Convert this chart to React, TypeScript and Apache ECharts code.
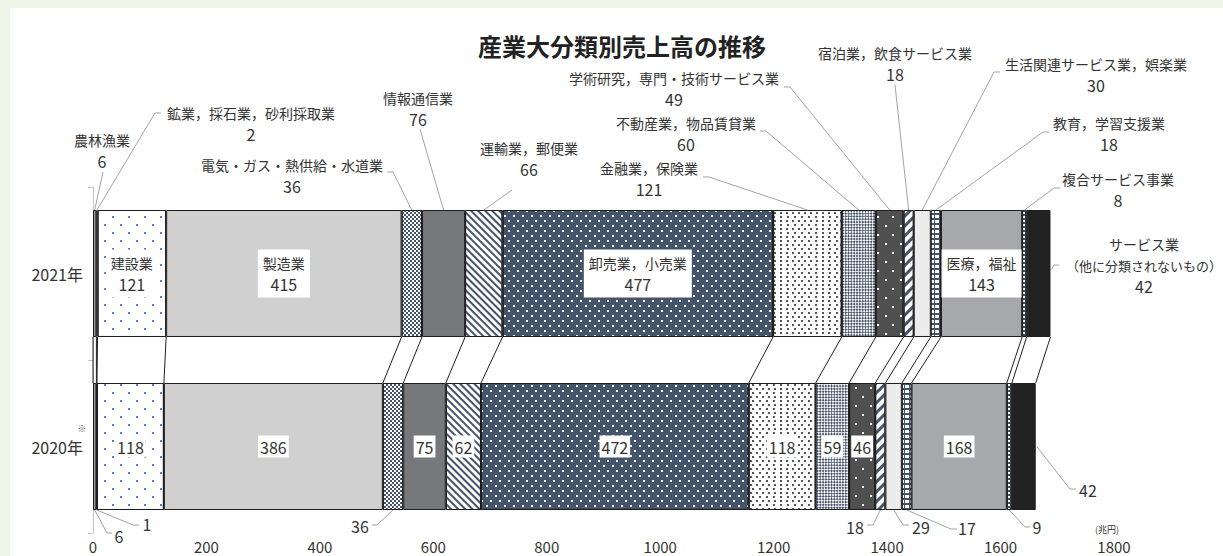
import React, { useEffect, useRef } from 'react';
import * as echarts from 'echarts';

// ---------- data ----------
const TITLE = '産業大分類別売上高の推移';
const YEARS = ['2021年', '2020年'];
const INDUSTRIES = [
  '農林漁業',
  '鉱業，採石業，砂利採取業',
  '建設業',
  '製造業',
  '電気・ガス・熱供給・水道業',
  '情報通信業',
  '運輸業，郵便業',
  '卸売業，小売業',
  '金融業，保険業',
  '不動産業，物品賃貸業',
  '学術研究，専門・技術サービス業',
  '宿泊業，飲食サービス業',
  '生活関連サービス業，娯楽業',
  '教育，学習支援業',
  '医療，福祉',
  '複合サービス事業',
  'サービス業（他に分類されないもの）',
];
const SALES_2021 = [6, 2, 121, 415, 36, 76, 66, 477, 121, 60, 49, 18, 30, 18, 143, 8, 42];
const SALES_2020 = [6, 1, 118, 386, 36, 75, 62, 472, 118, 59, 46, 18, 29, 17, 168, 9, 42];
const X_MIN = 0;
const X_MAX = 1800;
const X_STEP = 200;
const UNIT_LABEL = '(兆円)';
const NOTE_MARK = '※';

// which segments carry their label inside the bar
const INSIDE_2021 = [2, 3, 7, 14];
const INSIDE_2020 = [2, 3, 5, 6, 7, 8, 9, 10, 14];

// ---------- layout / styles ----------
const FONT = "'Noto Sans CJK JP', 'Noto Sans', sans-serif";
const TEXT = '#333333';
const NAVY = '#44546a';
const BAR_RATIO = 127 / 173;

const SEG_STYLES: any[] = [
  { color: '#9b9b9b' },
  { color: '#3c3c3c' },
  { color: '#ffffff', decal: { symbol: 'rect', color: '#4a7fd4', dashArrayX: [[1.6, 13.4], [0, 7.5, 1.6, 5.9]], dashArrayY: [1.6, 5.7], symbolSize: 1 } },
  { color: '#d0d0d0' },
  { color: '#ffffff', decal: { symbol: 'rect', color: NAVY, dashArrayX: [[1.5, 1.5], [0, 1.5, 1.5, 0]], dashArrayY: [1.5, 0], symbolSize: 1 } },
  { color: '#76787c' },
  { color: '#ffffff', decal: { symbol: 'rect', color: NAVY, dashArrayX: [1, 0], dashArrayY: [1.2, 2.8], rotation: Math.PI / 4, symbolSize: 1 } },
  { color: NAVY, decal: { symbol: 'rect', color: '#ffffff', dashArrayX: [[1.5, 6.5], [0, 4, 1.5, 2.5]], dashArrayY: [1.5, 2.5], symbolSize: 1 } },
  { color: '#ffffff', decal: { symbol: 'rect', color: '#555555', dashArrayX: [[1.3, 3.7], [0, 2.5, 1.3, 1.2]], dashArrayY: [1.3, 1.2], symbolSize: 1 } },
  { color: NAVY, decal: { symbol: 'rect', color: '#ffffff', dashArrayX: [[2, 2], [0, 2, 2, 0]], dashArrayY: [2, 0], rotation: Math.PI / 4, symbolSize: 1 } },
  { color: '#505050', decal: { symbol: 'rect', color: '#ffffff', dashArrayX: [[1.5, 12.5], [0, 7, 1.5, 5.5]], dashArrayY: [1.5, 6.5], symbolSize: 1 } },
  { color: '#ffffff', decal: { symbol: 'rect', color: NAVY, dashArrayX: [1, 0], dashArrayY: [2.5, 3.5], rotation: -Math.PI / 4, symbolSize: 1 } },
  { color: '#ececec' },
  { color: NAVY, decal: { symbol: 'rect', color: '#ffffff', dashArrayX: [[3.5, 1]], dashArrayY: [3, 1.2], symbolSize: 1 } },
  { color: '#a7a8ac' },
  { color: NAVY, decal: { symbol: 'rect', color: '#ffffff', dashArrayX: [[2, 1]], dashArrayY: [2, 1.5], symbolSize: 1 } },
  { color: '#222222' },
];

// callout placement: label centre (tx, ty) and leader-line bend points (pixels)
const CALLOUT_LAYOUT: any[] = [
  { seg: 0, year: 0, side: 'top', tx: 102, ty: 140, pts: [[103, 172]] },
  { seg: 1, year: 0, side: 'top', tx: 251, ty: 113, pts: [[161, 113], [155, 113]] },
  { seg: 4, year: 0, side: 'top', tx: 292, ty: 165, pts: [[387, 172], [393, 172]] },
  { seg: 5, year: 0, side: 'top', tx: 418, ty: 98, pts: [[420, 129]] },
  { seg: 6, year: 0, side: 'top', tx: 529, ty: 148, pts: [[512, 190]] },
  { seg: 8, year: 0, side: 'top', tx: 649, ty: 168, pts: [[703, 177], [709, 177]] },
  { seg: 9, year: 0, side: 'top', tx: 686, ty: 123, pts: [[760, 131], [766, 131]] },
  { seg: 10, year: 0, side: 'top', tx: 674, ty: 78, pts: [[784, 87], [790, 87]] },
  { seg: 11, year: 0, side: 'top', tx: 895, ty: 53, pts: [[895, 85]] },
  { seg: 12, year: 0, side: 'top', tx: 1096, ty: 64, pts: [[1000, 72], [994, 72]] },
  { seg: 13, year: 0, side: 'top', tx: 1109, ty: 123, pts: [[1049, 132], [1043, 132]] },
  { seg: 15, year: 0, side: 'top', tx: 1118, ty: 179, pts: [[1060, 188], [1054, 188]] },
  { seg: 16, year: 0, side: 'right', tx: 1144, ty: 244, pts: [[1059, 265], [1054, 265]] },
  { seg: 0, year: 1, side: 'bottom', tx: 119, ty: 536, pts: [[112, 533], [107, 533]] },
  { seg: 1, year: 1, side: 'bottom', tx: 147, ty: 524, pts: [[139, 525], [133, 525]] },
  { seg: 4, year: 1, side: 'bottom', tx: 360, ty: 526, pts: [[372, 525], [377, 525]] },
  { seg: 11, year: 1, side: 'bottom', tx: 855, ty: 527, pts: [[867, 525], [873, 525]] },
  { seg: 12, year: 1, side: 'bottom', tx: 921, ty: 527, pts: [[909, 525], [903, 525]] },
  { seg: 13, year: 1, side: 'bottom', tx: 967, ty: 528, pts: [[957, 529], [951, 529]] },
  { seg: 15, year: 1, side: 'bottom', tx: 1037, ty: 527, pts: [[1030, 527], [1025, 527]] },
  { seg: 16, year: 1, side: 'right', tx: 1088, ty: 490, pts: [[1076, 489], [1070, 489]] },
];

function cumulative(arr: number[]) {
  const out = [0];
  arr.forEach((v) => out.push(out[out.length - 1] + v));
  return out;
}

function buildOption() {
  const seriesValues = [SALES_2021, SALES_2020];
  const insideSets = [INSIDE_2021, INSIDE_2020];
  const cums = [cumulative(SALES_2021), cumulative(SALES_2020)];

  const richText = {
    n: { fontSize: 14, lineHeight: 21, color: TEXT, fontFamily: FONT },
    m: { fontSize: 13, lineHeight: 21, color: TEXT, fontFamily: FONT },
    v: { fontSize: 16, lineHeight: 21, color: TEXT, fontFamily: FONT },
  };

  const barSeries = INDUSTRIES.map((name, i) => {
    const st = SEG_STYLES[i];
    const itemStyle: any = { color: st.color, borderColor: '#1e1e1e', borderWidth: 1 };
    if (st.decal) itemStyle.decal = st.decal;
    return {
      type: 'bar',
      name,
      stack: 'total',
      barWidth: '73.4%',
      itemStyle,
      emphasis: { disabled: true },
      z: 2,
      data: seriesValues.map((vals, y) => {
        const show = insideSets[y].includes(i);
        return {
          value: vals[i],
          label: show
            ? {
                show: true,
                position: 'inside',
                formatter: y === 0 ? `{n|${name}}\n{v|${vals[i]}}` : `{w|${vals[i]}}`,
                backgroundColor: '#ffffff',
                padding: y === 0 ? [3, 5, 3, 5] : [1, 2, 1, 2],
                rich: { ...richText, w: { fontSize: 16, lineHeight: 20, color: TEXT, fontFamily: FONT } },
              }
            : { show: false },
        };
      }),
    };
  });

  const connectorData = cums[0].map((c, k) => [c, cums[1][k], 0]);

  const connectorSeries = {
    type: 'custom',
    coordinateSystem: 'cartesian2d',
    encode: { x: [0, 1], y: 2 },
    silent: true,
    clip: false,
    z: 3,
    renderItem: (params: any, api: any) => {
      const top = api.coord([api.value(0), 0]);
      const bot = api.coord([api.value(1), 1]);
      const half = (api.size([0, 1])[1] * BAR_RATIO) / 2;
      return {
        type: 'line',
        shape: { x1: top[0], y1: top[1] + half, x2: bot[0], y2: bot[1] - half },
        style: { stroke: '#1e1e1e', lineWidth: 1 },
      };
    },
    data: connectorData,
  };

  const calloutData = CALLOUT_LAYOUT.map((c, k) => {
    const vals = seriesValues[c.year];
    const cum = cums[c.year];
    return [cum[c.seg] + vals[c.seg] / 2, c.year, k, cum[c.seg + 1]];
  });

  const calloutSeries = {
    type: 'custom',
    coordinateSystem: 'cartesian2d',
    encode: { x: 0, y: 1 },
    silent: true,
    clip: false,
    z: 4,
    renderItem: (params: any, api: any) => {
      const k = api.value(2);
      const c = CALLOUT_LAYOUT[k];
      const yr = c.year;
      const half = (api.size([0, 1])[1] * BAR_RATIO) / 2;
      let anchor: number[];
      if (c.side === 'right') {
        const p = api.coord([api.value(3), yr]);
        anchor = [p[0] + 1, p[1] - (yr === 0 ? 4 : 0)];
      } else {
        const p = api.coord([api.value(0), yr]);
        anchor = [p[0], c.side === 'top' ? p[1] - half : p[1] + half];
      }
      const value = seriesValues[yr][c.seg];
      let text: string;
      if (yr === 0) {
        const lines = INDUSTRIES[c.seg].replace('（', '\n（').split('\n');
        text = lines.map((s) => `{${s.length > 10 && lines.length > 1 ? 'm' : 'n'}|${s}}`).join('\n') + `\n{v|${value}}`;
      } else {
        text = `{v|${value}}`;
      }
      return {
        type: 'group',
        children: [
          {
            type: 'polyline',
            shape: { points: [...c.pts, anchor] },
            style: { stroke: '#a3a3a3', lineWidth: 1, fill: 'none' },
          },
          {
            type: 'text',
            style: {
              text,
              x: c.tx,
              y: c.ty - 10.5,
              align: 'center',
              verticalAlign: 'top',
              fill: TEXT,
              fontFamily: FONT,
              rich: richText,
            },
          },
        ],
      };
    },
    data: calloutData,
  };

  return {
    animation: false,
    textStyle: { fontFamily: FONT, color: TEXT },
    title: {
      text: TITLE,
      left: 478,
      top: 33,
      padding: 0,
      textStyle: { fontSize: 24, fontWeight: 'bold', color: '#222222', fontFamily: FONT },
    },
    grid: { left: 93, right: 109, top: 187, bottom: 23, containLabel: false },
    xAxis: {
      type: 'value',
      min: X_MIN,
      max: X_MAX,
      interval: X_STEP,
      axisLine: { show: false },
      axisTick: { show: false },
      splitLine: { show: false },
      axisLabel: { fontSize: 15, lineHeight: 17, color: TEXT, margin: 5, fontFamily: FONT, formatter: (v: number) => String(v) },
    },
    yAxis: {
      type: 'category',
      data: YEARS,
      inverse: true,
      axisLine: { show: true, lineStyle: { color: '#c4c4c4', width: 1 } },
      axisTick: { show: true, length: 5, lineStyle: { color: '#c4c4c4' } },
      axisLabel: { fontSize: 16, color: TEXT, margin: 10, fontFamily: FONT },
    },
    graphic: [
      {
        type: 'text',
        x: 1107,
        y: 529,
        style: { text: UNIT_LABEL, fontSize: 9, fill: TEXT, align: 'center', verticalAlign: 'middle', fontFamily: FONT },
      },
      {
        type: 'text',
        x: 82,
        y: 428,
        style: { text: NOTE_MARK, fontSize: 9, fill: '#555555', align: 'center', verticalAlign: 'middle', fontFamily: FONT },
      },
    ],
    series: [...barSeries, connectorSeries, calloutSeries],
  };
}

export default function App() {
  const ref = useRef<HTMLDivElement>(null);
  useEffect(() => {
    if (!ref.current) return;
    const chart = echarts.init(ref.current, undefined, { renderer: 'svg' });
    chart.setOption(buildOption() as any);
    return () => chart.dispose();
  }, []);
  return (
    <div style={{ position: 'absolute', left: 0, top: 0, width: 1223, height: 556, background: '#edf5e6', overflow: 'hidden' }}>
      <div style={{ position: 'absolute', left: 10, top: 8, right: 0, bottom: 0, background: '#ffffff' }} />
      <div ref={ref} style={{ position: 'absolute', left: 0, top: 0, width: 1223, height: 556 }} />
    </div>
  );
}
